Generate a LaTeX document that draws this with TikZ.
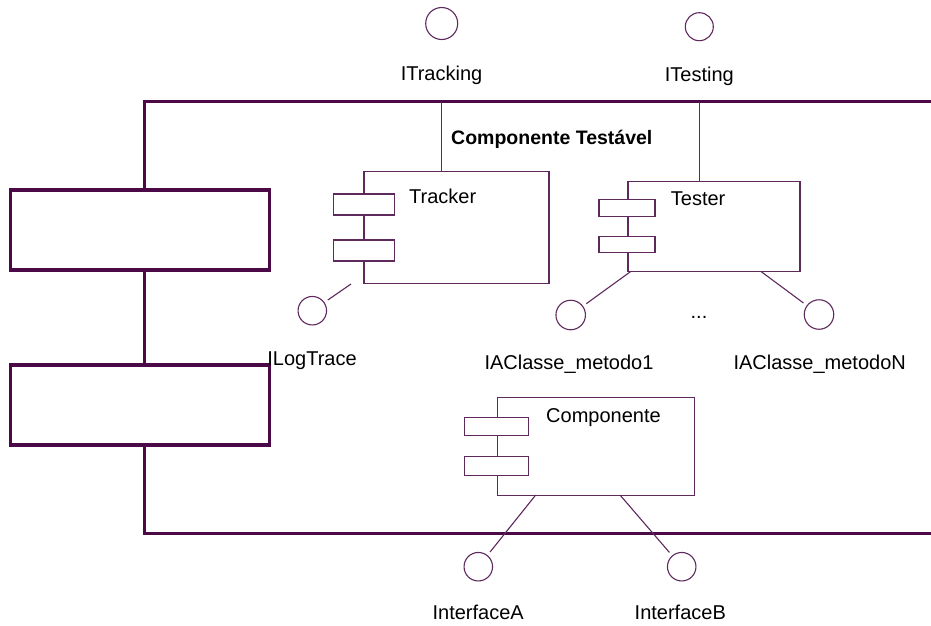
\documentclass[tikz,border=0pt]{standalone}
\usepackage{fontspec}
\setmainfont{Liberation Sans}
\definecolor{fc}{HTML}{4B0A47}
\definecolor{lc}{HTML}{5E2A5E}
\begin{document}
\begin{tikzpicture}[x=1pt,y=-1pt,
  frame/.style={draw=fc, line width=3.5pt, line join=miter},
  thin/.style={draw=lc, line width=1.1pt},
  framebox/.style={frame, rectangle, inner sep=0pt, minimum width=259pt, minimum height=80pt},
  compbox/.style={thin, rectangle, inner sep=0pt},
  portbox/.style={thin, fill=white, rectangle, inner sep=0pt},
  iface/.style={thin, circle, inner sep=0pt, minimum size=#1},
  iface/.default=28.5pt,
  lbl/.style={inner sep=0pt, anchor=base, font=\fontsize{20}{24}\selectfont},
  lblw/.style={inner sep=0pt, anchor=base west, font=\fontsize{20}{24}\selectfont},
  link/.style={thin, shorten >=4pt}
]
\useasboundingbox (0,0) rectangle (931,625);
\fill[white] (0,0) rectangle (931,625);

% frame
\coordinate (ftl) at (144.5,101.5);
\coordinate (ftr) at (933,101.5);
\coordinate (fbl) at (144.5,533.3);
\coordinate (fbr) at (933,533.3);
\node[framebox] (box1) at (140,230) {};
\node[framebox] (box2) at (140,405) {};
\draw[frame] (ftr) -- (ftl) -- (ftl |- box1.north);
\draw[frame] (ftl |- box1.south) -- (ftl |- box2.north);
\draw[frame] (ftl |- box2.south) -- (fbl) -- (fbr);

\node[lblw, font=\fontsize{19.5}{24}\selectfont\bfseries] (title) at (451,144.3) {Componente Testável};

% provided interfaces on top
\node[iface=32pt] (itrk) at (441.7,23.5) {};
\node[lbl] (itrkl) at (441.5,80) {ITracking};
\node[iface=28pt] (itst) at (699.3,26.7) {};
\node[lbl] (itstl) at (699.3,81.7) {ITesting};

% Tracker
\node[compbox, minimum width=185pt, minimum height=112.3pt] (trk) at (456.5,227.2) {};
\node[portbox, minimum width=61pt, minimum height=21pt] (trkp1) at (363.7,204.5) {};
\node[portbox, minimum width=61pt, minimum height=21pt] (trkp2) at (363.7,250.5) {};
\node[lblw] (trkl) at (409,203.3) {Tracker};
\coordinate (trkup) at (441.7,101.5);
\draw[thin] (trkup) -- (trkup |- trk.north);

% Tester
\node[compbox, minimum width=172pt, minimum height=89.3pt] (tst) at (714,226.5) {};
\node[portbox, minimum width=56pt, minimum height=16.5pt] (tstp1) at (627,208) {};
\node[portbox, minimum width=56pt, minimum height=16.5pt] (tstp2) at (627,244.5) {};
\node[lblw] (tstl) at (670.7,205) {Tester};
\coordinate (tstup) at (699.3,101.5);
\draw[thin] (tstup) -- (tstup |- tst.north);

% ILogTrace
\node[iface] (ilog) at (312.3,310.7) {};
\node[lbl] (ilogl) at (312,365) {ILogTrace};
\coordinate (trkout) at (351,284);
\draw[link] (trkout) -- (ilog);

% IAClasse interfaces
\node[iface=29.5pt] (iac1) at (570.7,315) {};
\node[lbl] (iac1l) at (569,369.3) {IAClasse\_metodo1};
\node[iface=29.5pt] (iacn) at (819,314.5) {};
\node[lbl] (iacnl) at (819.7,369.3) {IAClasse\_metodoN};
\coordinate (tstout1) at (630.7,271.5);
\coordinate (tstoutn) at (761,271.5);
\draw[link] (tstout1) -- (iac1);
\draw[link] (tstoutn) -- (iacn);
\node[inner sep=0pt, anchor=base, font=\fontsize{20}{24}\selectfont] (dots) at (699,318) {...};

% Componente
\node[compbox, minimum width=196.6pt, minimum height=97.7pt] (cmp) at (596,446.2) {};
\node[portbox, minimum width=64.4pt, minimum height=17.7pt] (cmpp1) at (496.5,426.2) {};
\node[portbox, minimum width=64.4pt, minimum height=18.7pt] (cmpp2) at (496.5,465.7) {};
\node[lblw] (cmpl) at (546,422.3) {Componente};
\node[iface] (ia) at (478.3,566.7) {};
\node[iface] (ib) at (681.7,566.7) {};
\coordinate (cmpa) at (535.7,495);
\coordinate (cmpb) at (620,495);
\draw[link] (cmpa) -- (ia);
\draw[link] (cmpb) -- (ib);
\node[lbl] (ial) at (478.2,619) {InterfaceA};
\node[lbl] (ibl) at (680.3,619) {InterfaceB};
\end{tikzpicture}
\end{document}
